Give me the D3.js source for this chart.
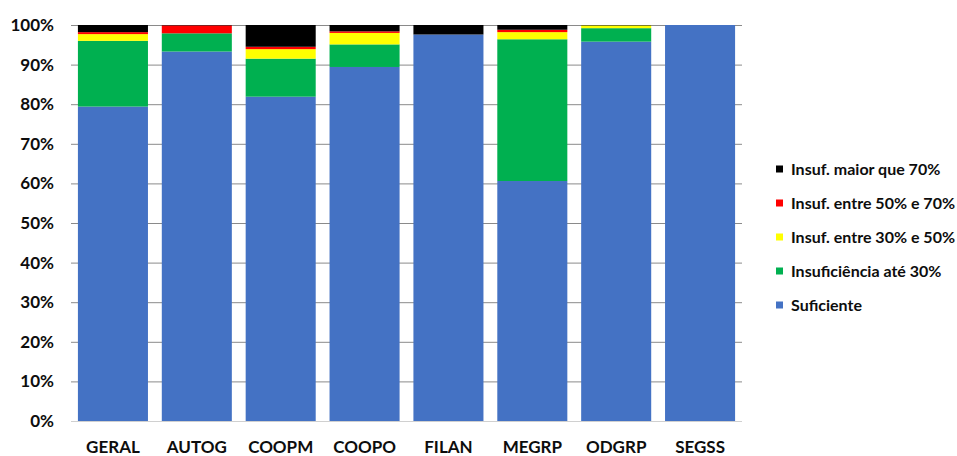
<!DOCTYPE html>
<html>
<head>
<meta charset="utf-8">
<script src="https://cdn.jsdelivr.net/npm/d3@7"></script>
<style>
  body { margin: 0; background: #fff; }
  svg text { font-family: Lato, "DejaVu Sans", sans-serif; font-weight: 700; fill: #0d0d0d; }
</style>
</head>
<body>
<svg id="chart" width="957" height="456"></svg>
<script>
// Categories (groups) and share of each sufficiency class, in percent
const categories = ["GERAL", "AUTOG", "COOPM", "COOPO", "FILAN", "MEGRP", "ODGRP", "SEGSS"];
const suficiente   = [79.4, 93.3, 81.9, 89.4, 97.6, 60.6, 95.8, 100];
const insufAte30   = [16.6,  4.6,  9.6,  5.7,  0.0, 35.8,  3.4,   0];
const insuf30a50   = [ 1.7,  0.0,  2.4,  2.9,  0.0,  1.8,  0.7,   0];
const insuf50a70   = [ 0.5,  2.0,  0.6,  0.4,  0.0,  0.6,  0.0,   0];
const insufMaior70 = [ 1.8,  0.1,  5.5,  1.6,  2.4,  1.2,  0.1,   0];
const yTicks = [0, 10, 20, 30, 40, 50, 60, 70, 80, 90, 100];

const seriesDefs = [
  { key: "suf",  label: "Suficiente",             values: suficiente,   color: "#4472C4" },
  { key: "a30",  label: "Insuficiência até 30%",  values: insufAte30,   color: "#00B050" },
  { key: "a50",  label: "Insuf. entre 30% e 50%", values: insuf30a50,   color: "#FFFF00" },
  { key: "a70",  label: "Insuf. entre 50% e 70%", values: insuf50a70,   color: "#FF0000" },
  { key: "m70",  label: "Insuf. maior que 70%",   values: insufMaior70, color: "#000000" }
];

const rows = categories.map((c, i) => {
  const r = { cat: c };
  seriesDefs.forEach(s => { r[s.key] = s.values[i]; });
  return r;
});

const svg = d3.select("#chart");
const x = d3.scaleBand().domain(categories).range([71, 742]).paddingInner(0.165).paddingOuter(0.0825);
const y = d3.scaleLinear().domain([0, 100]).range([421, 25]);

// Horizontal gridlines
svg.append("g").selectAll("line").data(yTicks).join("line")
  .attr("x1", 71).attr("x2", 742)
  .attr("y1", d => y(d) + 0.5).attr("y2", d => y(d) + 0.5)
  .attr("stroke", d => d === 0 ? "#d0d0d0" : "#8a8a8a")
  .attr("stroke-width", 1);

// Stacked bars
const stack = d3.stack().keys(seriesDefs.map(s => s.key));
const layers = stack(rows);
svg.append("g").selectAll("g").data(layers).join("g")
  .attr("fill", (d, i) => seriesDefs[i].color)
  .selectAll("rect").data(d => d).join("rect")
  .attr("x", d => x(d.data.cat))
  .attr("width", x.bandwidth())
  .attr("y", d => y(d[1]))
  .attr("height", d => Math.max(0, y(d[0]) - y(d[1])));

// Y axis labels
svg.append("g").selectAll("text").data(yTicks).join("text")
  .attr("x", 54).attr("y", d => y(d))
  .attr("dy", "0.35em")
  .attr("text-anchor", "end")
  .style("font-size", "17px")
  .text(d => d + "%");

// X axis labels
svg.append("g").selectAll("text").data(categories).join("text")
  .attr("x", d => x(d) + x.bandwidth() / 2)
  .attr("y", 447)
  .attr("dy", "0.35em")
  .attr("text-anchor", "middle")
  .style("font-size", "17px")
  .text(d => d);

// Legend (top entry is the top of the stack)
const legendItems = seriesDefs.slice().reverse();
const lg = svg.append("g").selectAll("g").data(legendItems).join("g")
  .attr("transform", (d, i) => `translate(776, ${169 + i * 34})`);
lg.append("rect").attr("x", 0).attr("y", -3.5).attr("width", 7).attr("height", 7)
  .attr("fill", d => d.color);
lg.append("text").attr("x", 15).attr("y", 0).attr("dy", "0.35em")
  .style("font-size", "16px")
  .text(d => d.label);
</script>
</body>
</html>
